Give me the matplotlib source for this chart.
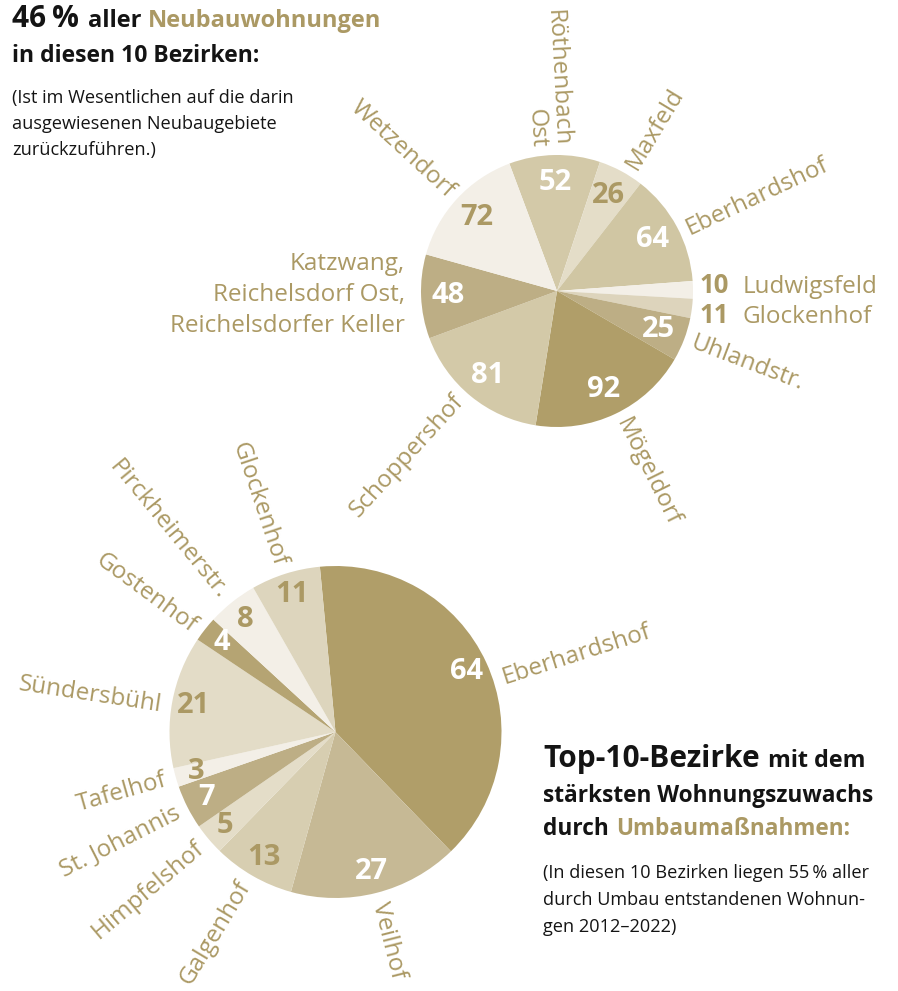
import matplotlib
matplotlib.use("Agg")
import matplotlib.pyplot as plt
import numpy as np

plt.rcParams['font.family'] = ['Open Sans', 'DejaVu Sans']

GOLD = "#ab9964"
INK = "#141414"

# oberer Kreis: Neubau, im Uhrzeigersinn ab Röthenbach Ost
neubau_names = ["Röthenbach\nOst", "Maxfeld", "Eberhardshof", "Ludwigsfeld", "Glockenhof",
                "Uhlandstr.", "Mögeldorf", "Schoppershof",
                "Katzwang,\nReichelsdorf Ost,\nReichelsdorfer Keller", "Wetzendorf"]
neubau_values = [52, 26, 64, 10, 11, 25, 92, 81, 48, 72]
neubau_colors = ["#d3c9a8", "#e4ddc8", "#d0c6a3", "#f3efe7", "#ddd4bc",
                 "#bdae85", "#b09e69", "#d3c9a8", "#bdae85", "#f3efe7"]
neubau_numcol = ["white", GOLD, "white", GOLD, GOLD, "white", "white", "white", "white", GOLD]

# unterer Kreis: Umbau, im Uhrzeigersinn ab Eberhardshof
umbau_names = ["Eberhardshof", "Veilhof", "Galgenhof", "Himpfelshof", "St. Johannis",
               "Tafelhof", "Sündersbühl", "Gostenhof", "Pirckheimerstr.", "Glockenhof"]
umbau_values = [64, 27, 13, 5, 7, 3, 21, 4, 8, 11]
umbau_colors = ["#b09e69", "#c6b995", "#d7ceb1", "#e4ddc8", "#bdae85",
                "#f3efe7", "#e3dcc7", "#b5a473", "#f3efe7", "#ddd5bd"]
umbau_numcol = ["white", "white", GOLD, GOLD, "white", GOLD, GOLD, "white", GOLD, GOLD]

W, H = 898, 991
fig = plt.figure(figsize=(W / 100, H / 100), dpi=100)
ax = fig.add_axes([0, 0, 1, 1])


def radial_label(cx, cy, r, theta, text, size=17.5):
    t = np.deg2rad(theta)
    x, y = cx + r * np.cos(t), cy + r * np.sin(t)
    th = (theta + 180) % 360 - 180
    if -90 <= th <= 90:
        rot, ha = th, 'left'
    else:
        rot, ha = th + 180, 'right'
    ax.text(x, y, text, rotation=rot, rotation_mode='anchor', ha=ha, va='center',
            multialignment=ha, fontsize=size, color=GOLD, linespacing=1.0)


def draw_pie(values, colors, numcol, names, center, radius, start, numdist, numsize,
             label_gap, nudge, skip):
    wedges, _ = ax.pie(values, colors=colors, startangle=start, counterclock=False,
                       radius=radius, center=center, wedgeprops=dict(linewidth=0))
    cx, cy = center
    for i, w in enumerate(wedges):
        mid = (w.theta1 + w.theta2) / 2
        if i in skip:
            continue
        t = np.deg2rad(mid)
        ax.text(cx + numdist * radius * np.cos(t), cy + numdist * radius * np.sin(t),
                str(values[i]), ha='center', va='center', fontsize=numsize,
                fontweight='bold', color=numcol[i])
        if names[i] is not None:
            radial_label(cx, cy, radius + label_gap, mid - nudge.get(i, 0), names[i])


# oberer Kreis
top_names = list(neubau_names)
top_names[8] = None
draw_pie(neubau_values, neubau_colors, neubau_numcol, top_names, (557, H - 291), 136,
         110.5, 0.8, 21, 8, {0: -2, 1: 3, 2: 3, 6: -1, 7: 3}, skip={3, 4})

# Ludwigsfeld / Glockenhof, waagerecht
for i, yb in ((3, H - 293), (4, H - 323)):
    ax.text(700, yb, str(neubau_values[i]), fontsize=18.5, fontweight='bold', color=GOLD,
            va='baseline', ha='left')
    ax.text(743, yb, neubau_names[i], fontsize=17.5, color=GOLD, va='baseline', ha='left')

for line, yb in zip(neubau_names[8].split("\n"), (270, 301, 332)):
    ax.text(405, H - yb, line, fontsize=17.5, color=GOLD, ha='right', va='baseline')

# unterer Kreis
draw_pie(umbau_values, umbau_colors, umbau_numcol, umbau_names, (335.5, H - 732), 166,
         95.4, 0.87, 21, 10, {0: 7, 2: 1, 6: -2, 7: -2, 8: -1, 9: -1}, skip=set())

ax.set_xlim(0, W)
ax.set_ylim(0, H)
ax.set_aspect('equal')
ax.axis('off')

renderer = fig.canvas.get_renderer()


def text_row(x, yb, parts):
    for s, size, weight, color, gap in parts:
        t = ax.text(x, H - yb, s, fontsize=size, fontweight=weight, color=color,
                    ha='left', va='baseline')
        x += t.get_window_extent(renderer=renderer).width + gap


# Überschrift oben links
text_row(12, 27, [("46\u2009%", 21.5, 'bold', INK, 9), ("aller", 17, 'bold', INK, 7),
                  ("Neubauwohnungen", 17, 'bold', GOLD, 0)])
text_row(12, 62, [("in diesen 10 Bezirken:", 16.5, 'bold', INK, 0)])
for line, yb in zip(["(Ist im Wesentlichen auf die darin",
                     "ausgewiesenen Neubaugebiete",
                     "zurückzuführen.)"], (103, 129, 155)):
    ax.text(12, H - yb, line, fontsize=13.1, color=INK, ha='left', va='baseline')

# Überschrift unten rechts
text_row(543, 767, [("Top-10-Bezirke", 21.5, 'bold', INK, 8), ("mit dem", 16.8, 'bold', INK, 0)])
text_row(543, 802, [("stärksten Wohnungszuwachs", 16.3, 'bold', INK, 0)])
text_row(543, 835, [("durch", 16.3, 'bold', INK, 7), ("Umbaumaßnahmen:", 16.3, 'bold', GOLD, 0)])
for line, yb in zip(["(In diesen 10 Bezirken liegen 55\u2009% aller",
                     "durch Umbau entstandenen Wohnun-",
                     "gen 2012\u20132022)"], (878, 905, 932)):
    ax.text(543, H - yb, line, fontsize=13.1, color=INK, ha='left', va='baseline')

fig.savefig("out.png", dpi=100, facecolor="white")
